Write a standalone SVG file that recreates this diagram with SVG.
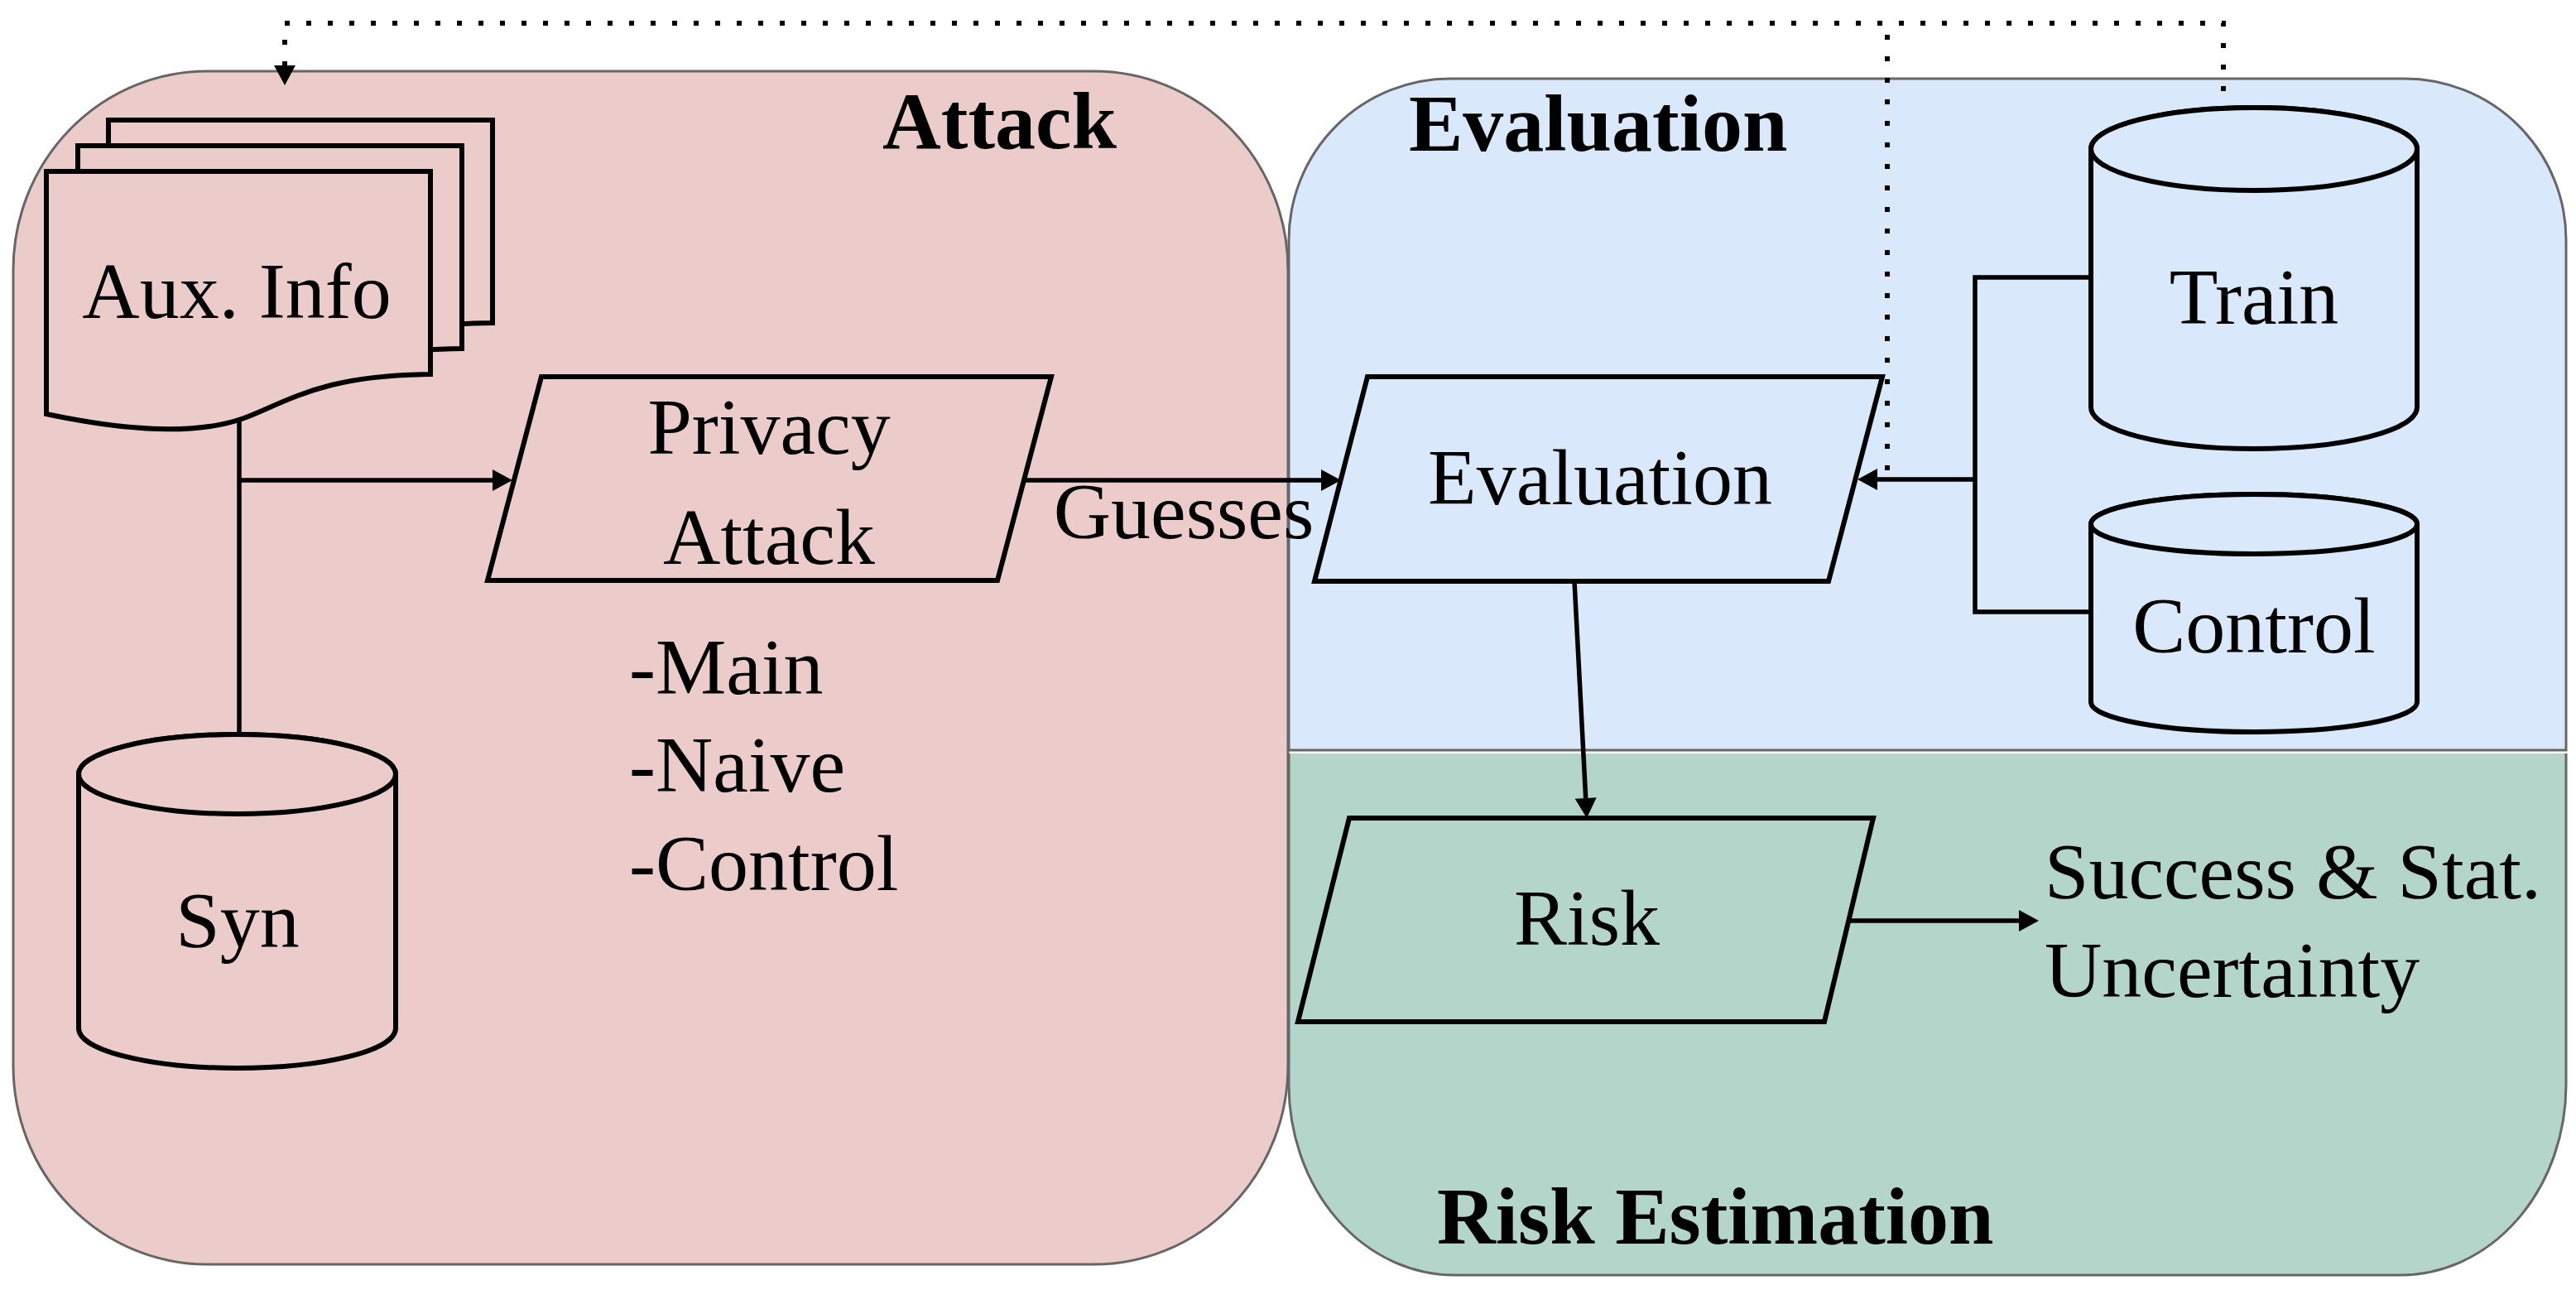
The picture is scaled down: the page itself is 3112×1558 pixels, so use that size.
<svg xmlns="http://www.w3.org/2000/svg" xmlns:xlink="http://www.w3.org/1999/xlink" width="3112" height="1558" viewBox="0 0 3112 1558">
<style>
.panel{stroke:#666666;stroke-width:3}
.shape{stroke:#000;stroke-width:6;stroke-linejoin:miter}
.pink{fill:#eccccb}
.blue{fill:#dae8fc}
.green{fill:#b4d5c9}
.conn{fill:none;stroke:#000;stroke-width:5.5}
.dot{fill:none;stroke:#000;stroke-width:6;stroke-dasharray:6 20}
text{font-family:"Liberation Serif","Times New Roman",serif;font-size:96px;fill:#000}
.title{font-weight:bold;font-size:98px}
.mid{text-anchor:middle}
</style>
<defs>
<marker id="arr" markerUnits="userSpaceOnUse" markerWidth="26" markerHeight="26" viewBox="0 0 24 26" refX="0" refY="13" orient="auto">
<path d="M0,0 L24,13 L0,26 Z" fill="#000"/>
</marker>
<path id="doc" d="M0,0 H464 V245 C344,246 304,271 244,296 C184,320 94,313 0,293 Z"/>
</defs>

<g id="panel-attack">
<rect class="panel pink" x="16" y="86" width="1540" height="1441" rx="234" ry="240"/>
<text class="title" x="1066" y="179">Attack</text>
</g>

<g id="panel-evaluation">
<path class="panel blue" d="M1557,906 V290 A195,195 0 0 1 1752,95 H2905 A195,195 0 0 1 3100,290 V906 Z"/>
<text class="title" x="1702" y="182">Evaluation</text>
</g>

<g id="panel-risk">
<path class="green" d="M1557,910 H3100 V1310 A200,230 0 0 1 2900,1540 H1757 A200,230 0 0 1 1557,1310 Z"/>
<path class="panel" fill="none" d="M1557,910 V1310 A200,230 0 0 0 1757,1540 H2900 A200,230 0 0 0 3100,1310 V910"/>
<text class="title" x="1736" y="1502">Risk Estimation</text>
</g>

<g id="connectors">
<path class="conn" d="M289,506 V887"/>
<path class="conn" d="M289,580 H595" marker-end="url(#arr)"/>
<path class="conn" d="M1237,580 H1596" marker-end="url(#arr)"/>
<path class="conn" d="M2526,335 H2386 V739 H2526"/>
<path class="conn" d="M2386,579 H2268" marker-end="url(#arr)"/>
<path class="conn" d="M1902,702 L1915.7,964" marker-end="url(#arr)"/>
<path class="conn" d="M2232,1112 H2439" marker-end="url(#arr)"/>
<path class="dot" d="M2686,110 V28 H344 V79" marker-end="url(#arr)"/>
<path class="dot" d="M2280,568 V28"/>
<text x="1430" y="650" class="mid">Guesses</text>
</g>

<g id="node-aux">
<use xlink:href="#doc" href="#doc" class="shape pink" transform="translate(131,145)"/>
<use xlink:href="#doc" href="#doc" class="shape pink" transform="translate(94,176)"/>
<use xlink:href="#doc" href="#doc" class="shape pink" transform="translate(56,207)"/>
<text x="286" y="384" class="mid">Aux. Info</text>
</g>

<g id="node-syn">
<path class="shape pink" d="M95,935 V1242 A191.5,48 0 0 0 478,1242 V935 A191.5,48 0 0 0 95,935 Z"/>
<ellipse class="shape pink" cx="286.5" cy="935" rx="191.5" ry="48"/>
<text x="287" y="1144" class="mid">Syn</text>
</g>

<g id="node-privacy">
<path class="shape pink" d="M654,455 H1270 L1205,701 H589 Z"/>
<text x="929" y="548" class="mid">Privacy</text>
<text x="929" y="681" class="mid">Attack</text>
<text x="760" y="838">-Main</text>
<text x="760" y="956">-Naive</text>
<text x="760" y="1075">-Control</text>
</g>

<g id="node-evaluation">
<path class="shape blue" d="M1652,455 H2274 L2209,702 H1588 Z"/>
<text x="1933" y="609" class="mid">Evaluation</text>
</g>

<g id="node-train">
<path class="shape blue" d="M2526,180 V492 A197,50 0 0 0 2920,492 V180 A197,50 0 0 0 2526,180 Z"/>
<ellipse class="shape blue" cx="2723" cy="180" rx="197" ry="50"/>
<text x="2723" y="391" class="mid">Train</text>
</g>

<g id="node-control">
<path class="shape blue" d="M2526,633 V848 A197,36 0 0 0 2920,848 V633 A197,36 0 0 0 2526,633 Z"/>
<ellipse class="shape blue" cx="2723" cy="633" rx="197" ry="36"/>
<text x="2723" y="788" class="mid">Control</text>
</g>

<g id="node-risk">
<path class="shape green" d="M1630,988 H2263 L2204,1234 H1568 Z"/>
<text x="1917" y="1141" class="mid">Risk</text>
</g>

<g id="node-success">
<text x="2470" y="1085">Success &amp; Stat.</text>
<text x="2470" y="1204">Uncertainty</text>
</g>
</svg>
